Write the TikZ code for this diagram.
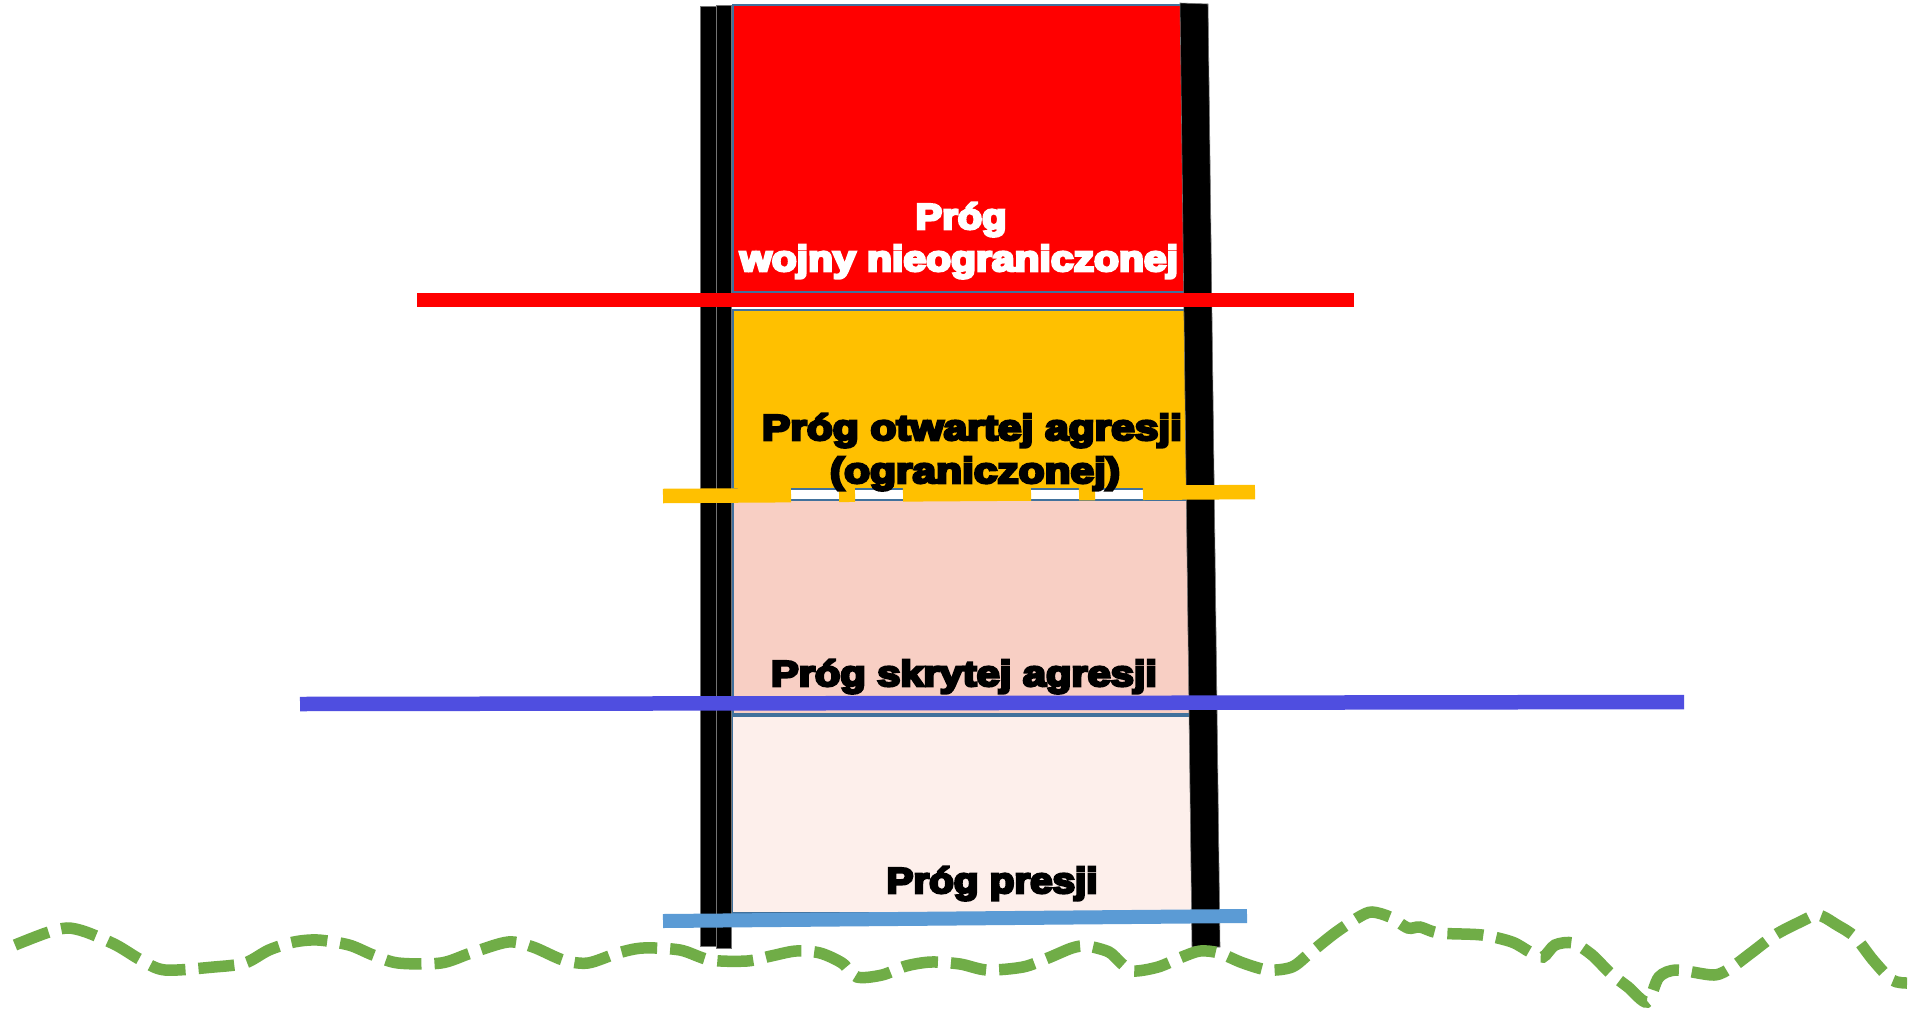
\documentclass[tikz,border=0pt]{standalone}
\usepackage{fontspec}
\usepackage{graphicx}
\newfontfamily\heavyfont{Liberation Sans}[FakeBold=7]
\definecolor{boxline}{RGB}{65,113,156}
\definecolor{redc}{RGB}{255,0,0}
\definecolor{yellowc}{RGB}{255,192,0}
\definecolor{pinkc}{RGB}{248,207,196}
\definecolor{lightpinkc}{RGB}{253,239,235}
\definecolor{bluec}{RGB}{79,78,224}
\definecolor{lightbluec}{RGB}{91,155,213}
\definecolor{greenc}{RGB}{112,173,71}
\newcommand\fitw[2]{\resizebox{#1}{\height}{#2}}
\begin{document}
\begin{tikzpicture}[x=1pt,y=-1pt,
  zone/.style={draw=boxline,line width=1.2pt},
  pillar/.style={fill=black,draw=black!55,line width=0.6pt},
  level/.style={line width=#1,line cap=butt},
  lbl/.style={inner sep=0pt,anchor=base,font=\heavyfont\bfseries\fontsize{36}{43}\selectfont}]
\fill[white] (0,0) rectangle (1908,1009);
\useasboundingbox (0,0) rectangle (1908,1009);
% zones
\filldraw[zone,fill=redc] (733,5) rectangle (1186,292);
\filldraw[zone,fill=yellowc] (733,310) rectangle (1188,489);
\filldraw[zone,fill=pinkc] (733,500) rectangle (1192,714);
\filldraw[zone,fill=lightpinkc] (732,716) rectangle (1194,913);
% pillars
\filldraw[pillar] (700,6) rectangle (716,946);
\filldraw[pillar] (716,5) rectangle (731,948);
\filldraw[pillar] (1180,3) -- (1208,4) -- (1220,947) -- (1192,947) -- cycle;
% threshold lines
\draw[level=13.5pt,redc] (417,300) -- (1354,300);
\draw[level=14.5pt,yellowc,dash pattern=on 128pt off 48pt on 16pt off 48pt] (663,496) -- (1255,492);
\draw[level=14.5pt,bluec] (300,704) -- (1684,702);
\draw[level=14pt,lightbluec] (663,921) -- (1247,916);
% labels
\node[lbl,text=white] (t1a) at (961,229) {\fitw{91pt}{Próg}};
\node[lbl,text=white] (t1b) at (959,271) {\fitw{438pt}{wojny nieograniczonej}};
\node[lbl] (t2a) at (972,440) {\fitw{420pt}{Próg otwartej agresji}};
\node[lbl] (t2b) at (975,483) {\fitw{290pt}{(ograniczonej)}};
\node[lbl] (t3) at (964,686) {\fitw{386pt}{Próg skrytej agresji}};
\node[lbl] (t4) at (992,893) {\fitw{211pt}{Próg presji}};
% ground wave
\draw[greenc,line width=11.5pt,dash pattern=on 36pt off 13pt] plot[smooth,tension=0.5] coordinates {
(15,945) (46,933) (67,928) (86,932) (116,945) (141,960) (165,970) (214,967) (245,963) (269,950) (294,942) (318,940) (349,945) (373,955) (398,963) (441,963) (471,953) (508,942) (533,947) (563,960) (588,963) (618,953) (643,948) (680,950) (710,960) (747,961) (771,956) (796,951) (820,953) (842,963) (857,977) (882,975) (906,966) (931,962) (960,964) (987,970) (1023,967) (1048,958) (1072,948) (1087,946) (1109,952) (1121,963) (1133,971) (1158,967) (1182,957) (1200,951) (1219,953) (1243,963) (1268,970) (1292,967) (1310,953) (1335,933) (1359,917) (1372,912) (1390,917) (1408,928) (1420,927) (1439,933) (1482,935) (1512,942) (1530,952) (1543,957) (1555,945) (1573,943) (1592,955) (1610,973) (1628,987) (1647,1002) (1659,977) (1677,970) (1714,975) (1732,967) (1751,953) (1775,935) (1800,922) (1818,915) (1837,925) (1855,937) (1873,960) (1892,980) (1907,983)};
\end{tikzpicture}
\end{document}
